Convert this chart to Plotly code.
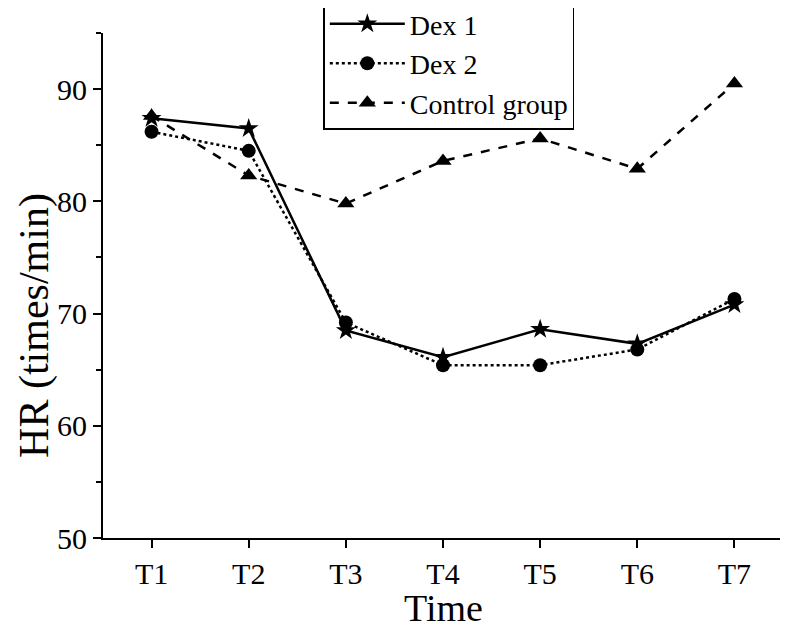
import plotly.graph_objects as go

time_labels = ["T1", "T2", "T3", "T4", "T5", "T6", "T7"]
dex1 = [87.4, 86.5, 68.5, 66.1, 68.6, 67.3, 70.8]
dex2 = [86.2, 84.5, 69.2, 65.4, 65.4, 66.8, 71.3]
control = [87.6, 82.3, 79.8, 83.6, 85.6, 82.9, 90.5]

FONT = "Liberation Serif, Times New Roman, serif"

fig = go.Figure()
fig.add_trace(go.Scatter(
    x=time_labels, y=dex1, name="Dex 1", mode="lines+markers",
    line=dict(color="black", width=2.5, dash="solid"),
    marker=dict(symbol="star", size=15, color="black"),
))
fig.add_trace(go.Scatter(
    x=time_labels, y=dex2, name="Dex 2", mode="lines+markers",
    line=dict(color="black", width=2.5, dash="dot"),
    marker=dict(symbol="circle", size=14, color="black"),
))
fig.add_trace(go.Scatter(
    x=time_labels, y=control, name="Control group", mode="lines+markers",
    line=dict(color="black", width=2.5, dash="dash"),
    marker=dict(symbol="triangle-up", size=15, color="black"),
))

fig.update_layout(
    width=780, height=623,
    margin=dict(l=95, r=5, t=25, b=93, autoexpand=False),
    paper_bgcolor="white", plot_bgcolor="white",
    font=dict(family=FONT, color="black", size=29),
    showlegend=True,
    legend=dict(
        x=0.324, y=1.07, xanchor="left", yanchor="top",
        bordercolor="black", borderwidth=1.5, bgcolor="white",
        font=dict(family=FONT, size=28, color="black"),
        itemwidth=75, tracegroupgap=0,
    ),
    annotations=[
        dict(text="Time", xref="paper", yref="paper", x=0.5, y=-0.138,
             xanchor="center", yanchor="middle", showarrow=False,
             font=dict(family=FONT, size=38, color="black")),
        dict(text="HR (times/min)", xref="paper", yref="paper", x=-0.10, y=0.42,
             xanchor="center", yanchor="middle", showarrow=False, textangle=-90,
             font=dict(family=FONT, size=42, color="black")),
    ],
)
fig.update_xaxes(
    type="category", range=[-0.5, 6.5], automargin=False,
    showline=True, linecolor="black", linewidth=2,
    ticks="outside", ticklen=8, tickwidth=2, tickcolor="black",
    minor=dict(ticks="outside", ticklen=5, tickwidth=2, tickcolor="black", showgrid=False),
    showgrid=False, zeroline=False,
    tickfont=dict(family=FONT, size=30),
)
fig.update_yaxes(
    range=[50, 95], dtick=10, tick0=50, automargin=False,
    showline=True, linecolor="black", linewidth=2,
    ticks="outside", ticklen=8, tickwidth=2, tickcolor="black",
    minor=dict(ticks="outside", ticklen=5, tickwidth=2, tickcolor="black", dtick=5, showgrid=False),
    showgrid=False, zeroline=False,
    tickfont=dict(family=FONT, size=30),
)

fig.write_html("out.html")
